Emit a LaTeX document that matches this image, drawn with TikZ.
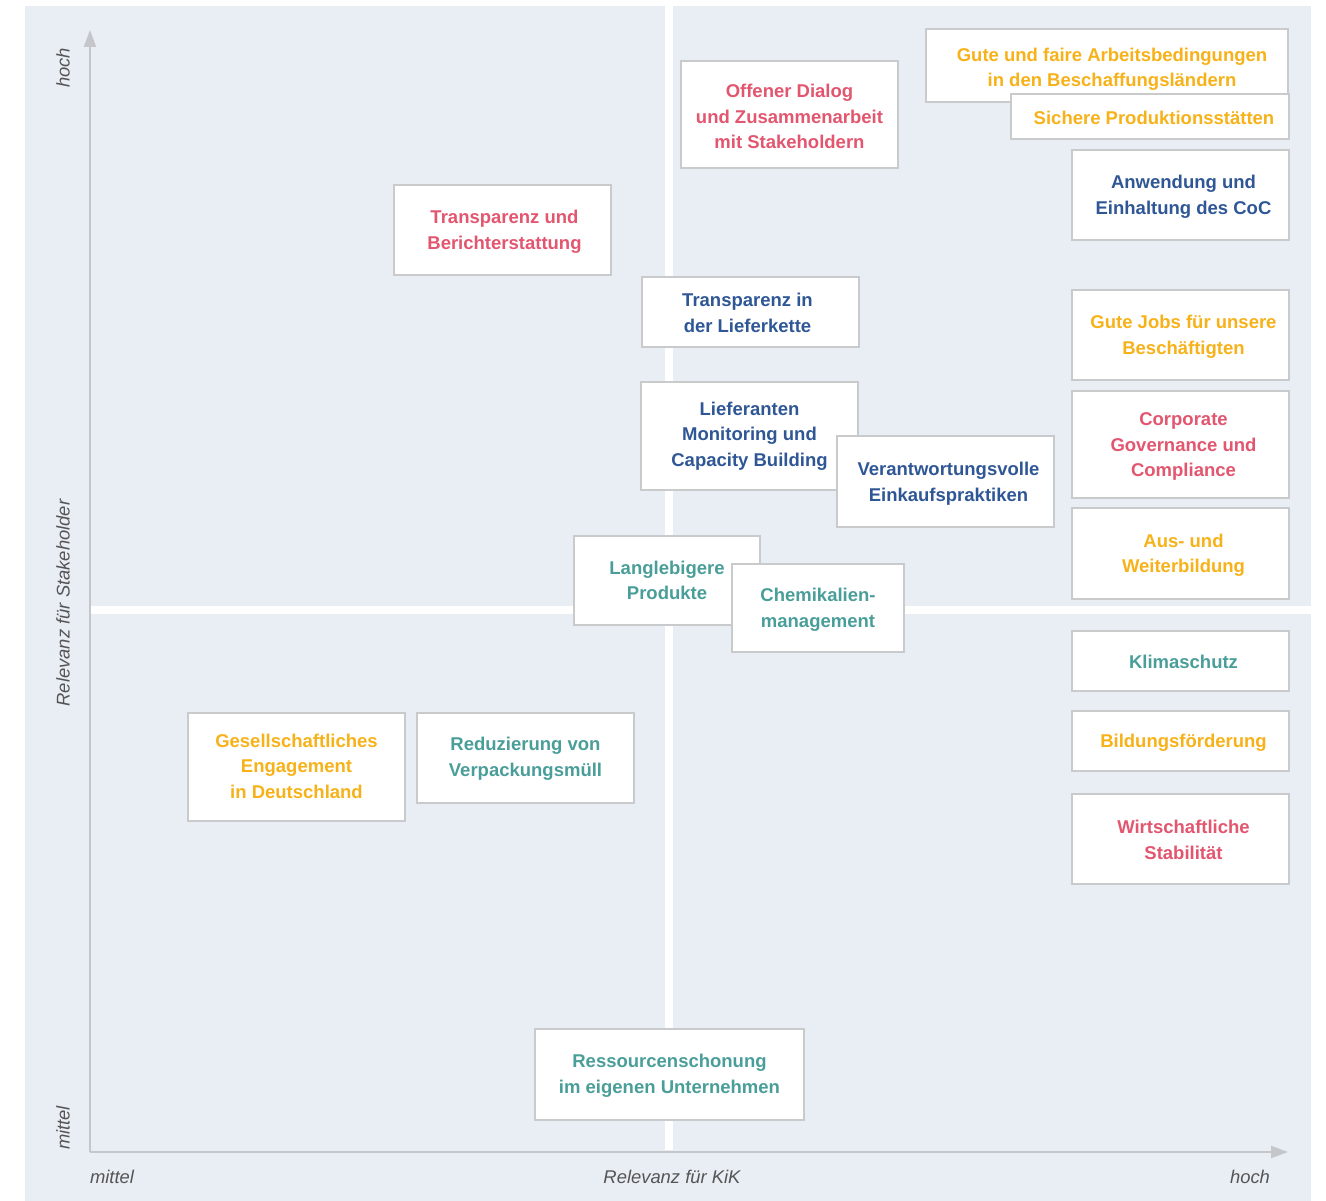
\documentclass[tikz,border=0pt]{standalone}
\usepackage{fontspec}
\setmainfont{Liberation Sans}
\usetikzlibrary{arrows.meta}
\definecolor{bgc}{HTML}{E9EDF4}
\definecolor{boxgray}{HTML}{C9CACC}
\definecolor{axgray}{HTML}{C4C6C9}
\definecolor{labgray}{HTML}{555555}
\definecolor{cred}{HTML}{E2566F}
\definecolor{corange}{HTML}{F7B219}
\definecolor{cblue}{HTML}{2F5796}
\definecolor{cteal}{HTML}{4A9E99}
\tikzset{
  topic/.style={draw=boxgray, line width=2pt, fill=white, rectangle, inner sep=0pt},
  topictext/.style={align=center, inner sep=0pt,
    font=\bfseries\fontsize{18.5}{25.5}\selectfont},
  axlabel/.style={text=labgray, font=\itshape\fontsize{18.4}{20}\selectfont, inner sep=0pt},
  axisline/.style={draw=axgray, line width=2pt, -{Triangle[length=17pt,width=12pt]}}
}
\newcommand{\topicbox}[8]{% name, left, top, right, bottom, color, text-yshift, text
  \node[topic, minimum width={#4-#2}, minimum height={#5-#3}] (#1) at ({(#2+#4)/2},{(#3+#5)/2}) {};
  \node[topictext, text=#6, yshift=-#7] (#1-t) at (#1.center) {#8};
}
\begin{document}
\begin{tikzpicture}[x=1pt,y=-1pt]
\useasboundingbox (0,0) rectangle (1326,1201);
\fill[bgc] (25,6) rectangle (1311,1201);
\fill[white] (665,6) rectangle (673,1150);
\fill[white] (91,606) rectangle (1311,614);
\coordinate (origin) at (90,1152);
\coordinate (ytip) at (90,30);
\coordinate (xtip) at (1288,1152);
\draw[axisline] (origin) -- (ytip);
\draw[axisline] (origin) -- (xtip);
\node[axlabel, rotate=90] (yhoch) at (63,68) {hoch};
\node[axlabel, rotate=90] (ytitle) at (63,603) {Relevanz für Stakeholder};
\node[axlabel, rotate=90] (ymittel) at (63,1128) {mittel};
\node[axlabel] (xmittel) at (112,1177) {mittel};
\node[axlabel] (xtitle) at (672,1177) {Relevanz für KiK};
\node[axlabel] (xhoch) at (1250,1177) {hoch};

\topicbox{gute}{926}{29}{1288}{102}{corange}{4pt}{\hspace*{10pt}Gute und faire Arbeitsbedingungen\\\hspace*{10pt}in den Beschaffungsländern}
\topicbox{sichere}{1011}{94}{1289}{139}{corange}{1pt}{\hspace*{8pt}Sichere Produktionsstätten}
\topicbox{dialog}{681}{61}{898}{168}{cred}{2pt}{Offener Dialog\\und Zusammenarbeit\\mit Stakeholdern}
\topicbox{coc}{1072}{150}{1289}{240}{cblue}{2pt}{\hspace*{6pt}Anwendung und\\\hspace*{6pt}Einhaltung des CoC}
\topicbox{bericht}{394}{185}{611}{275}{cred}{2pt}{\hspace*{4pt}Transparenz und\\\hspace*{4pt}Berichterstattung}
\topicbox{liefer}{642}{277}{859}{347}{cblue}{1pt}{\hspace*{-6pt}Transparenz in\\\hspace*{-6pt}der Lieferkette}
\topicbox{jobs}{1072}{290}{1289}{380}{corange}{2pt}{\hspace*{6pt}Gute Jobs für unsere\\\hspace*{6pt}Beschäftigten}
\topicbox{monitor}{641}{382}{858}{490}{cblue}{0pt}{Lieferanten\\Monitoring und\\Capacity Building}
\topicbox{einkauf}{837}{436}{1054}{527}{cblue}{2pt}{\hspace*{6pt}Verantwortungsvolle\\\hspace*{6pt}Einkaufspraktiken}
\topicbox{governance}{1072}{391}{1289}{498}{cred}{2pt}{\hspace*{6pt}Corporate\\\hspace*{6pt}Governance und\\\hspace*{6pt}Compliance}
\topicbox{bildung}{1072}{508}{1289}{599}{corange}{2pt}{\hspace*{6pt}Aus- und\\\hspace*{6pt}Weiterbildung}
\topicbox{produkte}{574}{536}{760}{625}{cteal}{0pt}{Langlebigere\\Produkte}
\topicbox{chemie}{732}{564}{904}{652}{cteal}{2pt}{Chemikalien-\\management}
\topicbox{klima}{1072}{631}{1289}{691}{cteal}{1pt}{\hspace*{6pt}Klimaschutz}
\topicbox{foerder}{1072}{711}{1289}{771}{corange}{2pt}{\hspace*{6pt}Bildungsförderung}
\topicbox{wirtschaft}{1072}{794}{1289}{884}{cred}{1pt}{\hspace*{6pt}Wirtschaftliche\\\hspace*{6pt}Stabilität}
\topicbox{engagement}{188}{713}{405}{821}{corange}{-1pt}{Gesellschaftliches\\Engagement\\in Deutschland}
\topicbox{verpackung}{417}{713}{634}{803}{cteal}{1pt}{Reduzierung von\\Verpackungsmüll}
\topicbox{ressourcen}{535}{1029}{804}{1120}{cteal}{1pt}{Ressourcenschonung\\im eigenen Unternehmen}
\end{tikzpicture}
\end{document}
